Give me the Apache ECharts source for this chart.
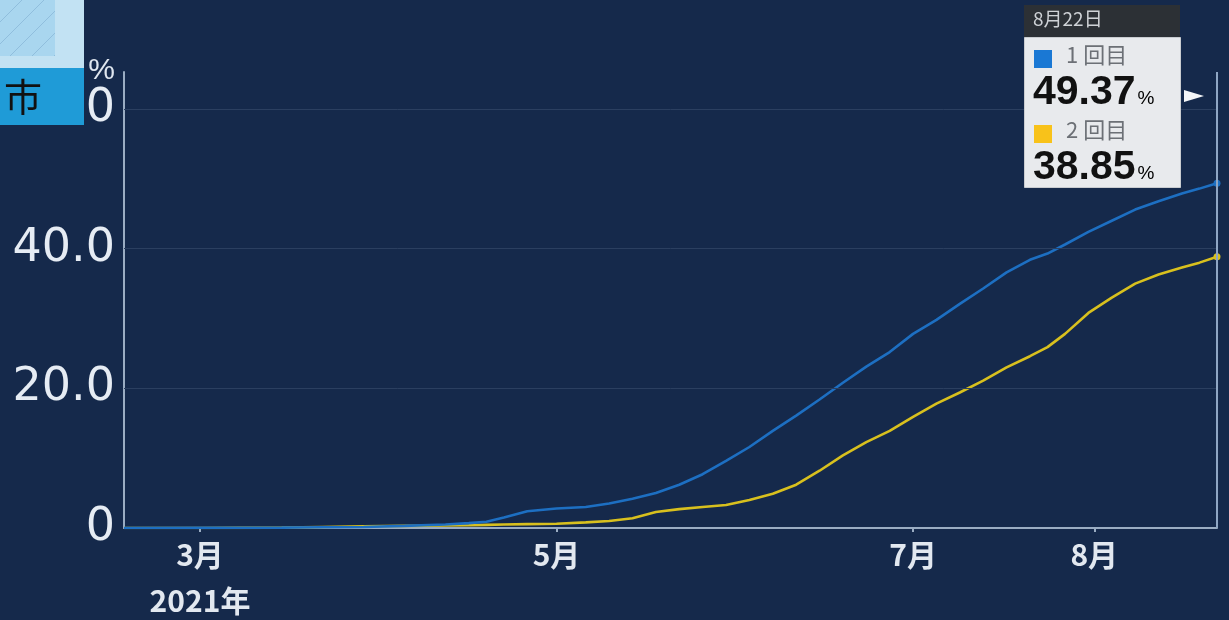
<!DOCTYPE html>
<html>
<head>
<meta charset="utf-8">
<script src="https://cdn.jsdelivr.net/npm/echarts@6/dist/echarts.min.js"></script>
<style>
  html, body { margin: 0; padding: 0; background: #15294b; }
  #chart { width: 1229px; height: 620px; }
</style>
</head>
<body>
<div id="chart"></div>
<script>
// Vaccination rate (%) — 1st and 2nd dose, cumulative
const dates = [
  '2021-02-16', '2021-03-01', '2021-03-08', '2021-03-15', '2021-03-22', '2021-03-29',
  '2021-04-05', '2021-04-12', '2021-04-16', '2021-04-19', '2021-04-22', '2021-04-26',
  '2021-05-01', '2021-05-06', '2021-05-10', '2021-05-14', '2021-05-18', '2021-05-22',
  '2021-05-26', '2021-05-30', '2021-06-03', '2021-06-07', '2021-06-11', '2021-06-15',
  '2021-06-19', '2021-06-23', '2021-06-27', '2021-07-01', '2021-07-05', '2021-07-09',
  '2021-07-13', '2021-07-17', '2021-07-21', '2021-07-24', '2021-07-27', '2021-07-31',
  '2021-08-04', '2021-08-08', '2021-08-12', '2021-08-16', '2021-08-19', '2021-08-22'
];
const firstDose = [
  0, 0.02, 0.03, 0.05, 0.1, 0.15,
  0.3, 0.5, 0.7, 0.9, 1.5, 2.4,
  2.8, 3.0, 3.5, 4.2, 5.0, 6.2,
  7.7, 9.6, 11.6, 13.9, 16.1, 18.4,
  20.8, 23.1, 25.2, 27.8, 29.8, 32.1,
  34.3, 36.6, 38.4, 39.3, 40.6, 42.4,
  44.0, 45.6, 46.8, 47.9, 48.6, 49.37
];
const secondDose = [
  0, 0, 0.02, 0.05, 0.15, 0.25,
  0.3, 0.35, 0.4, 0.45, 0.5, 0.55,
  0.6, 0.8, 1.0, 1.4, 2.3, 2.7,
  3.0, 3.3, 4.0, 4.9, 6.2, 8.2,
  10.4, 12.3, 13.9, 15.9, 17.8, 19.4,
  21.1, 23.0, 24.6, 25.9, 27.8, 30.8,
  33.0, 35.0, 36.3, 37.3, 38.0, 38.85
];
const seriesNames = ['1回目', '2回目'];
const monthTicks = ['2021-03-01', '2021-05-01', '2021-07-01', '2021-08-01'];
const yGridValues = [20, 40, 60];
const regionLabel = '市';

const BLUE = '#1d6fc2';
const YELLOW = '#d8c01e';
const CJK = '"Noto Sans CJK JP", sans-serif';

function toTs(s) {
  const p = s.split('-').map(Number);
  return new Date(p[0], p[1] - 1, p[2]).getTime();
}

const lastIdx = dates.length - 1;
const lastDate = new Date(toTs(dates[lastIdx]));
const headerText = (lastDate.getMonth() + 1) + '月' + lastDate.getDate() + '日';

function pairs(vals) {
  return dates.map((d, i) => [toTs(d), vals[i]]);
}

// hatched fill for the corner badge
const hatch = document.createElement('canvas');
hatch.width = 22; hatch.height = 22;
(function () {
  const c = hatch.getContext('2d');
  c.fillStyle = '#a9d6ef';
  c.fillRect(0, 0, 22, 22);
  c.strokeStyle = '#90bedd';
  c.lineWidth = 1;
  c.beginPath();
  c.moveTo(0, 22); c.lineTo(22, 0);
  c.moveTo(-11, 11); c.lineTo(11, -11);
  c.moveTo(11, 33); c.lineTo(33, 11);
  c.stroke();
})();

const chart = echarts.init(document.getElementById('chart'), null, { renderer: 'canvas' });

const lineSeries = (name, vals, color, extra) => Object.assign({
  name: name,
  type: 'line',
  data: pairs(vals),
  showAllSymbol: true,
  symbol: 'circle',
  symbolSize: (v, p) => (p.dataIndex === lastIdx ? 7 : 0),
  itemStyle: { color: color },
  lineStyle: { color: color, width: 2.6 },
  silent: true,
  animation: false
}, extra || {});

// value readout text: big number followed by a small percent sign
const readout = (v) => '{n|' + v.toFixed(2) + '}{p|%}';
const readoutRich = {
  n: { fontSize: 41, fontWeight: 'bold', fontFamily: '"Liberation Sans", sans-serif', fill: '#111', color: '#111' },
  p: { fontSize: 19, fontFamily: '"Liberation Sans", sans-serif', color: '#555', padding: [12, 0, 0, 2] }
};

chart.setOption({
  backgroundColor: '#15294b',
  animation: false,
  grid: { left: 124, right: 12, top: 72, bottom: 92, containLabel: false, outerBoundsMode: 'none' },
  xAxis: {
    type: 'value',
    min: toTs(dates[0]),
    max: toTs(dates[lastIdx]),
    axisLine: { show: true, lineStyle: { color: '#9aacc2', width: 2 } },
    axisTick: {
      show: true, length: 4, inside: false,
      customValues: monthTicks.map(toTs),
      lineStyle: { color: '#9aacc2', width: 2 }
    },
    splitLine: { show: false },
    axisLabel: {
      customValues: monthTicks.map(toTs),
      color: '#e2e8f0',
      fontSize: 30,
      fontWeight: 'bold',
      fontFamily: CJK,
      margin: 4,
      lineHeight: 46,
      formatter: function (v) {
        const d = new Date(v);
        const m = (d.getMonth() + 1) + '月';
        return d.getMonth() === 2 ? m + '\n' + d.getFullYear() + '年' : m;
      }
    }
  },
  yAxis: {
    type: 'value',
    min: 0,
    max: 65.3,
    interval: 20,
    name: '%',
    nameLocation: 'end',
    nameGap: 0,
    nameTextStyle: {
      color: '#dfe6ef', fontSize: 30, fontFamily: '"Liberation Sans", sans-serif',
      align: 'right', verticalAlign: 'middle', padding: [0, 9, 0, 0]
    },
    axisLine: { show: true, lineStyle: { color: '#9aacc2', width: 2 } },
    axisTick: { show: false },
    splitLine: { show: false },
    axisLabel: {
      showMaxLabel: false,
      color: '#e6ecf4',
      fontSize: 46,
      fontFamily: '"DejaVu Sans", sans-serif',
      margin: 9,
      formatter: v => (v === 0 ? '0' : v.toFixed(1))
    }
  },
  series: [
    lineSeries(seriesNames[0], firstDose, BLUE, {
      z: 3,
      markLine: {
        silent: true,
        symbol: 'none',
        label: { show: false },
        animation: false,
        data: yGridValues.map(v => ({ yAxis: v, lineStyle: { color: '#2b3f60', width: 1, type: 'solid' } }))
          .concat([{ xAxis: toTs(dates[lastIdx]), lineStyle: { color: '#8fa6c4', width: 2, type: 'solid' } }])
      }
    }),
    lineSeries(seriesNames[1], secondDose, YELLOW, { z: 2 })
  ],
  graphic: [
    // corner badge
    { type: 'rect', left: 0, top: 0, z: 100, shape: { width: 84, height: 68 }, style: { fill: '#c2e2f3' } },
    { type: 'rect', left: 0, top: 0, z: 101, shape: { width: 55, height: 56 }, style: { fill: { image: hatch, repeat: 'repeat' } } },
    { type: 'rect', left: 0, top: 68, z: 100, shape: { width: 84, height: 57 }, style: { fill: '#1f9bd7' } },
    { type: 'text', left: 4, top: 78, z: 102, style: { text: regionLabel, fill: '#111', font: '38px "Noto Sans CJK JP"' } },
    // value box
    { type: 'rect', left: 1024, top: 5, z: 100, shape: { width: 156, height: 32 }, style: { fill: '#2c3035' } },
    { type: 'rect', left: 1024, top: 37, z: 100, shape: { width: 156, height: 150 }, style: { fill: '#e8eaed', stroke: '#c9ccd0', lineWidth: 1 } },
    { type: 'text', left: 1033, top: 9, z: 102, style: { text: headerText, fill: '#cfd2d6', font: '19px "Noto Sans CJK JP"' } },
    { type: 'rect', left: 1034, top: 50, z: 102, shape: { width: 18, height: 18 }, style: { fill: '#1a78d4' } },
    { type: 'text', left: 1066, top: 44, z: 102, style: { text: seriesNames[0].replace('回', ' 回'), fill: '#6c7076', font: '22px "Noto Sans CJK JP"' } },
    { type: 'text', left: 1033, top: 72, z: 102, style: { text: readout(firstDose[lastIdx]), rich: readoutRich } },
    { type: 'rect', left: 1034, top: 125, z: 102, shape: { width: 18, height: 18 }, style: { fill: '#f8c21a' } },
    { type: 'text', left: 1066, top: 119, z: 102, style: { text: seriesNames[1].replace('回', ' 回'), fill: '#6c7076', font: '22px "Noto Sans CJK JP"' } },
    { type: 'text', left: 1033, top: 147, z: 102, style: { text: readout(secondDose[lastIdx]), rich: readoutRich } },
    { type: 'polygon', z: 102, shape: { points: [[1184, 90], [1184, 102], [1204, 96]] }, style: { fill: '#f4f6f8' } }
  ]
});
</script>
</body>
</html>
